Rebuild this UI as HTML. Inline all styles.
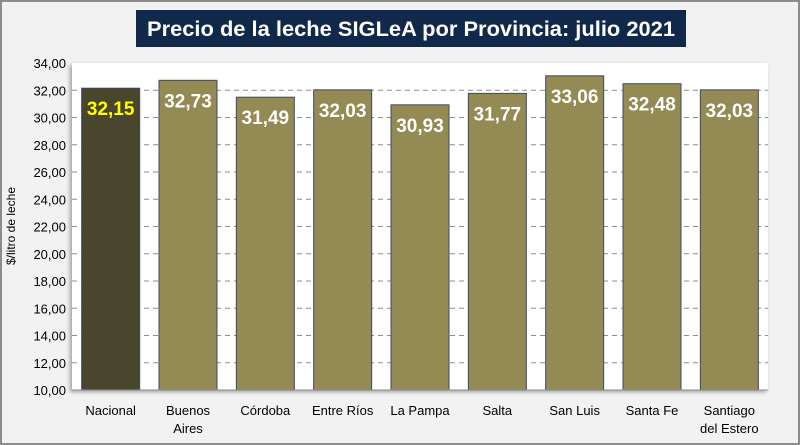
<!DOCTYPE html>
<html><head><meta charset="utf-8"><style>
body{margin:0;width:800px;height:445px;overflow:hidden;background:#fff;font-family:"Liberation Sans",sans-serif}
</style></head><body>
<svg width="800" height="445" id="c" style="display:block">
<rect x="1" y="1" width="798" height="443" fill="#f2f2f2" stroke="#8c8c8c" stroke-width="2"/>
<defs><filter id="sh" x="-5%" y="-5%" width="110%" height="110%"><feDropShadow dx="-2" dy="2" stdDeviation="2" flood-color="#666" flood-opacity="0.6"/></filter></defs>
<rect x="136" y="10" width="550" height="37" fill="#10284a"/>
<text x="411" y="36" text-anchor="middle" font-size="21" font-weight="bold" fill="#fff" textLength="528" lengthAdjust="spacingAndGlyphs">Precio de la leche SIGLeA por Provincia: julio 2021</text>
<rect x="72" y="63" width="696" height="327" fill="#fff" filter="url(#sh)"/>
<text transform="translate(15,226) rotate(-90)" text-anchor="middle" font-size="12" fill="#000">$/litro de leche</text>
<g id="g"></g>
</svg>
<script>
const categories=[["Nacional"],["Buenos","Aires"],["Córdoba"],["Entre Ríos"],["La Pampa"],["Salta"],["San Luis"],["Santa Fe"],["Santiago","del Estero"]];
const values=[32.15,32.73,31.49,32.03,30.93,31.77,33.06,32.48,32.03];
const labels=["32,15","32,73","31,49","32,03","30,93","31,77","33,06","32,48","32,03"];
const ticks=[10,12,14,16,18,20,22,24,26,28,30,32,34];
const L=72,R=768,T=63,B=390,ymin=10,ymax=34;
const y=v=>B-(v-ymin)/(ymax-ymin)*(B-T);
const bw=(R-L)/categories.length;
const x=i=>L+bw*(i+0.5);
const g=document.getElementById('g');
const NS='http://www.w3.org/2000/svg';
function mk(t,a,txt){const e=document.createElementNS(NS,t);for(const k in a)e.setAttribute(k,a[k]);if(txt!==undefined)e.textContent=txt;g.appendChild(e);return e;}
ticks.forEach(t=>{
  if(t>ymin&&t<ymax){const l=mk('line',{x1:L,x2:R,y1:y(t),y2:y(t),stroke:'#8c8c8c','stroke-dasharray':'5,4','stroke-width':1});
  
  }
  const tx=mk('text',{x:L-6,y:y(t)+5,'text-anchor':'end','font-size':13,fill:'#000'},t.toFixed(2).replace('.',','));
  
  
});
values.forEach((v,i)=>{
  const r=mk('rect',{x:x(i)-29,y:y(v),width:58,height:B-y(v),fill:i===0?'#4a452d':'#948a54',stroke:'#3b4a63','stroke-width':1});
  
  
  const t=mk('text',{x:x(i),y:y(v)+27,'text-anchor':'middle','font-size':19,'font-weight':'bold',fill:i===0?'#ffff00':'#fff'},labels[i]);
  
  
  categories[i].forEach((s,j)=>{
    const c=mk('text',{x:x(i),y:415+j*18,'text-anchor':'middle','font-size':13,fill:'#000'},s);
    
    
  });
});
const ax=mk('line',{x1:L,x2:R,y1:B,y2:B,stroke:'#8c8c8c'});


</script>
</body></html>
